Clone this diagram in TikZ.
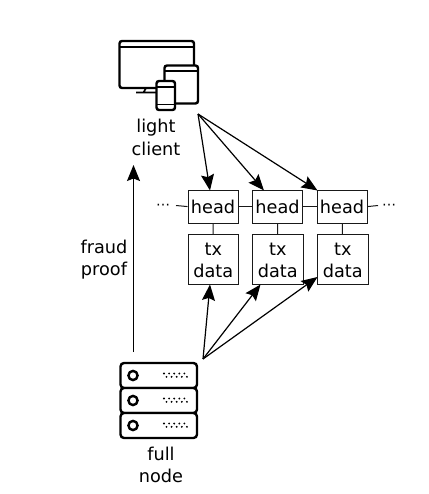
\documentclass[tikz,border=0pt]{standalone}
\usepackage{fontspec}
\setmainfont{DejaVu Sans}
\usetikzlibrary{arrows.meta}
\tikzset{
  x=1pt,y=-1pt,
  lbl/.style={inner sep=0pt,align=center,font=\fontsize{17.7}{22.4}\selectfont,text=black},
  boxn/.style={draw=black!90,line width=1.15pt,inner sep=0pt,anchor=north west,align=center,font=\fontsize{17.7}{22}\selectfont,text=black},
  link/.style={draw=black!90,line width=1pt},
  arr/.style={draw=black,line width=1.2pt,-{Stealth[length=16pt,width=13pt,inset=2.5pt]}},
  ico/.style={draw=black,line width=2.4pt,rounded corners=2.5pt,fill=white},
}
\newcommand{\txtop}{\rule{0pt}{15pt}}
\begin{document}
\begin{tikzpicture}
\useasboundingbox (0,0) rectangle (428,494);
% monitor icon
\draw[ico,fill=none] (119.5,41) rectangle (194,88);
\draw[black,line width=2pt] (119.5,47.5) -- (194,47.5);
\draw[black,line width=1.7pt] (146,88) -- (143.5,92.5) (136,92.5) -- (156,92.5);
\draw[ico] (164.5,65.5) rectangle (198,103.5);
\draw[black,line width=1.9pt] (164.5,71) -- (198,71);
\draw[ico] (156.5,81) rectangle (175,110);
\draw[black,line width=1.8pt] (156.5,87) -- (175,87) (156.5,104.5) -- (175,104.5);
\coordinate (lightsrc) at (198,114);
\node[lbl] (light) at (156,137.5) {light\\client};
% server icon
\foreach \y in {363,388,413}{
  \draw[ico,rounded corners=3.5pt] (120.5,\y) rectangle (197,\y+25);
  \draw[black,line width=2.4pt] (133,\y+12.5) circle (4.6pt);
  \foreach \i in {0,1,2,3,4}{
    \fill[black] (164+\i*5.1,\y+10.5) circle (1.05pt);
    \fill[black] (166.5+\i*5.1,\y+13.8) circle (1.05pt);
  }
}
\coordinate (serverTop) at (133.5,352);
\coordinate (fullsrc) at (203,359);
\node[lbl] (full) at (161,465) {full\\node};
% chain
\node[boxn,minimum width=50pt,minimum height=33pt] (h1) at (187.5,189.5) {head};
\node[boxn,minimum width=50pt,minimum height=33pt] (h2) at (252,189.5) {head};
\node[boxn,minimum width=50pt,minimum height=33pt] (h3) at (316.5,189.5) {head};
\node[boxn,minimum width=50.5pt,minimum height=50pt] (d1) at (187.5,234) {\txtop tx\\data};
\node[boxn,minimum width=50.5pt,minimum height=50pt] (d2) at (252,234) {\txtop tx\\data};
\node[boxn,minimum width=50.5pt,minimum height=50pt] (d3) at (317,234) {\txtop tx\\data};
\path[link] (h1) -- (h2);
\path[link] (h2) -- (h3);
\path[link] (h1) -- (d1);
\path[link] (h2) -- (d2);
\path[link] (h3) -- (d3);
\node[lbl,font=\fontsize{14}{14}\selectfont] (dotsl) at (163,207) {⋯};
\node[lbl,font=\fontsize{14}{14}\selectfont] (dotsr) at (389,207) {⋯};
\coordinate (lstub) at (176,205.5);
\coordinate (rstub) at (378,205.5);
\path[link] (lstub) -- (h1.west);
\path[link] (h3.east) -- (rstub);
% arrows
\draw[arr] (lightsrc) -- (210,190.5);
\draw[arr] (lightsrc) -- (264,190.5);
\draw[arr] (lightsrc) -- (317.5,190.5);
\draw[arr] (fullsrc) -- (210,284.5);
\draw[arr] (fullsrc) -- (260.5,284.5);
\draw[arr] (fullsrc) -- (317.5,277);
\draw[arr] (serverTop) -- (133.5,165);
\node[lbl] (fraud) at (104,259.5) {fraud\\proof};
\end{tikzpicture}
\end{document}
